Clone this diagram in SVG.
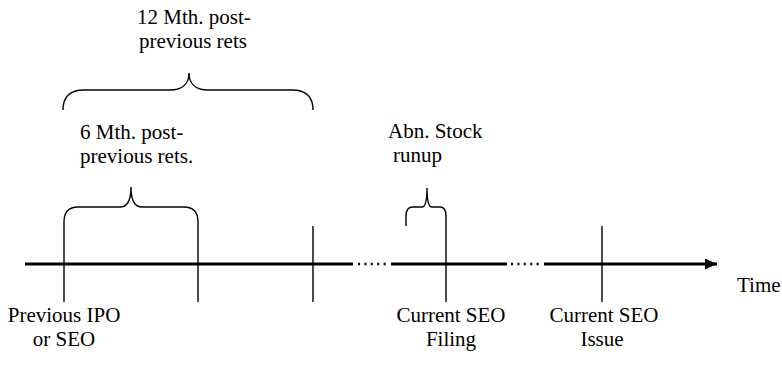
<svg xmlns="http://www.w3.org/2000/svg" width="782" height="380" viewBox="0 0 782 380">
  <style>
    .lbl { font-family: "Liberation Serif", "DejaVu Serif", serif; font-size: 21px; fill: #000; }
    .mid { text-anchor: middle; }
    .axis { stroke: #000; stroke-width: 3; fill: none; }
    .dots { stroke: #000; stroke-width: 2.4; fill: none; stroke-dasharray: 2 4.4; }
    .tick { stroke: #000; stroke-width: 1.4; fill: none; }
    .brace { stroke: #000; stroke-width: 1.4; fill: none; }
  </style>
  <defs>
    <marker id="arrow" markerWidth="12" markerHeight="11" refX="12" refY="5.5" orient="auto" markerUnits="userSpaceOnUse">
      <path d="M0,0 L12,5.5 L0,11 Z" fill="#000"/>
    </marker>
  </defs>
  <rect width="782" height="380" fill="#fff"/>

  <!-- time axis: solid stretches with dotted gaps -->
  <g id="connectors">
    <line class="axis" x1="25" y1="264" x2="353" y2="264"/>
    <line class="dots" x1="358" y1="264" x2="390" y2="264"/>
    <line class="axis" x1="391" y1="264" x2="507" y2="264"/>
    <line class="dots" x1="511" y1="264" x2="543" y2="264"/>
    <line class="axis" x1="544" y1="264" x2="717" y2="264" marker-end="url(#arrow)"/>
    <text class="lbl" font-family="Liberation Serif, serif" x="737" y="292">Time</text>
  </g>

  <!-- 12-month window -->
  <g id="window12" font-family="Liberation Serif, serif">
    <path class="brace" d="M63,110 C63,96 70,90 84,90 L170,90 C183,90 189,83 189,73 C189,83 195,90 208,90 L292,90 C306,90 313,96 313,110"/>
    <text class="lbl mid" x="194" y="24">12 Mth. post-</text>
    <text class="lbl mid" x="193" y="48">previous rets</text>
  </g>

  <!-- 6-month window -->
  <g id="window6" font-family="Liberation Serif, serif">
    <path class="brace" d="M64,222 C64,212 68,207 78,207 L120,207 C127,207 131,200 131,187 C131,200 135,207 142,207 L184,207 C194,207 198,212 198,222"/>
    <text class="lbl" x="80" y="139">6 Mth. post-</text>
    <text class="lbl" x="80" y="163">previous rets.</text>
  </g>

  <!-- run-up window -->
  <g id="runup" font-family="Liberation Serif, serif">
    <path class="brace" d="M406,226 L406,216 C406,210 408,207 413,207 L422,207 C425,207 427,203 427,188 C427,203 429,207 432,207 L440,207 C444,207 446,210 446,216"/>
    <text class="lbl" x="388" y="138">Abn. Stock</text>
    <text class="lbl" x="393" y="162">runup</text>
  </g>

  <!-- event markers -->
  <g id="previous-issue" font-family="Liberation Serif, serif">
    <line class="tick" x1="64" y1="222" x2="64" y2="302"/>
    <text class="lbl mid" x="64" y="322">Previous IPO</text>
    <text class="lbl mid" x="64" y="346">or SEO</text>
  </g>
  <g id="month6">
    <line class="tick" x1="198" y1="222" x2="198" y2="302"/>
  </g>
  <g id="month12">
    <line class="tick" x1="313" y1="226" x2="313" y2="302"/>
  </g>
  <g id="seo-filing" font-family="Liberation Serif, serif">
    <line class="tick" x1="446" y1="216" x2="446" y2="302"/>
    <text class="lbl mid" x="451" y="322">Current SEO</text>
    <text class="lbl mid" x="451" y="346">Filing</text>
  </g>
  <g id="seo-issue" font-family="Liberation Serif, serif">
    <line class="tick" x1="602" y1="226" x2="602" y2="302"/>
    <text class="lbl mid" x="604" y="322">Current SEO</text>
    <text class="lbl mid" x="602" y="346">Issue</text>
  </g>
</svg>
